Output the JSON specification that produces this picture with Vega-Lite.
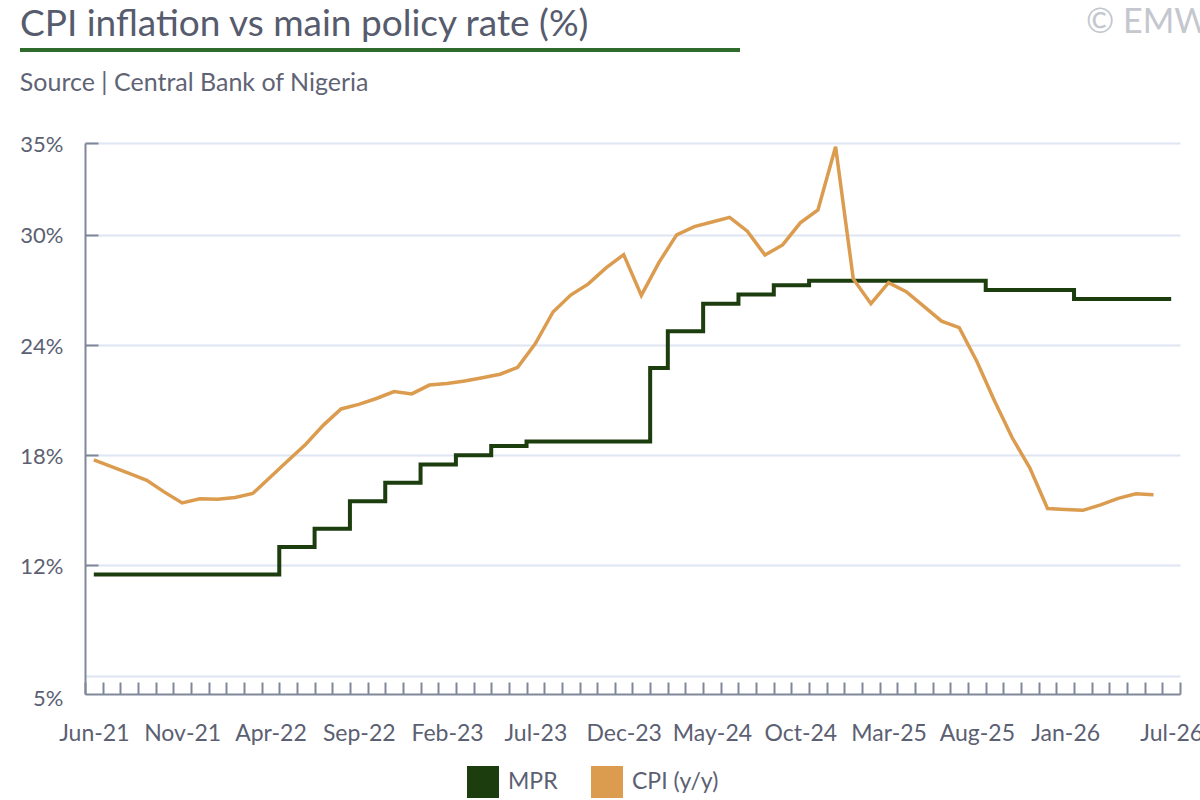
{
  "$schema": "https://vega.github.io/schema/vega-lite/v6.json",
  "background": "white",
  "padding": {"left": 17, "top": 0, "right": 0, "bottom": 0},
  "spacing": 19,
  "config": {
    "view": {"stroke": null},
    "font": "Lato",
    "text": {"font": "Lato"}
  },
  "vconcat": [
    {
      "width": 1095,
      "height": 52,
      "data": {"values": [{"label": "CPI inflation vs main policy rate (%)", "note": "© EMW"}]},
      "layer": [
        {
          "mark": {"type": "text", "align": "left", "baseline": "alphabetic", "font": "Lato", "fontSize": 37, "color": "#565b6d"},
          "encoding": {
            "x": {"datum": -0.0594, "type": "quantitative", "scale": {"domain": [0, 1]}, "axis": null},
            "y": {"datum": 0.69, "type": "quantitative", "scale": {"domain": [0, 1], "reverse": true}, "axis": null},
            "text": {"field": "label"}
          }
        },
        {
          "mark": {"type": "text", "align": "left", "baseline": "alphabetic", "font": "Lato", "fontSize": 34, "color": "#c4c7ce"},
          "encoding": {
            "x": {"datum": 0.9142, "type": "quantitative"},
            "y": {"datum": 0.63, "type": "quantitative"},
            "text": {"field": "note"}
          }
        },
        {
          "mark": {"type": "rule", "color": "#2f6b2d", "strokeWidth": 4},
          "encoding": {
            "x": {"datum": -0.0594, "type": "quantitative"},
            "x2": {"datum": 0.5982},
            "y": {"datum": 0.96, "type": "quantitative"}
          }
        }
      ]
    },
    {
      "width": 1095,
      "height": 551,
      "title": {
        "text": "Source | Central Bank of Nigeria",
        "anchor": "start",
        "frame": "bounds",
        "font": "Lato",
        "fontSize": 25,
        "fontWeight": "normal",
        "color": "#5f6475",
        "offset": 37
      },
      "data": {
        "values": [
          {"month": "Jun-21", "MPR": 11.5, "CPI": 17.75},
          {"month": "Jul-21", "MPR": 11.5, "CPI": 17.38},
          {"month": "Aug-21", "MPR": 11.5, "CPI": 17.01},
          {"month": "Sep-21", "MPR": 11.5, "CPI": 16.63},
          {"month": "Oct-21", "MPR": 11.5, "CPI": 15.99},
          {"month": "Nov-21", "MPR": 11.5, "CPI": 15.4},
          {"month": "Dec-21", "MPR": 11.5, "CPI": 15.63},
          {"month": "Jan-22", "MPR": 11.5, "CPI": 15.6},
          {"month": "Feb-22", "MPR": 11.5, "CPI": 15.7},
          {"month": "Mar-22", "MPR": 11.5, "CPI": 15.92},
          {"month": "Apr-22", "MPR": 11.5, "CPI": 16.82},
          {"month": "May-22", "MPR": 13, "CPI": 17.71},
          {"month": "Jun-22", "MPR": 13, "CPI": 18.6},
          {"month": "Jul-22", "MPR": 14, "CPI": 19.64},
          {"month": "Aug-22", "MPR": 14, "CPI": 20.52},
          {"month": "Sep-22", "MPR": 15.5, "CPI": 20.77},
          {"month": "Oct-22", "MPR": 15.5, "CPI": 21.09},
          {"month": "Nov-22", "MPR": 16.5, "CPI": 21.47},
          {"month": "Dec-22", "MPR": 16.5, "CPI": 21.34},
          {"month": "Jan-23", "MPR": 17.5, "CPI": 21.82},
          {"month": "Feb-23", "MPR": 17.5, "CPI": 21.91},
          {"month": "Mar-23", "MPR": 18, "CPI": 22.04},
          {"month": "Apr-23", "MPR": 18, "CPI": 22.22},
          {"month": "May-23", "MPR": 18.5, "CPI": 22.41},
          {"month": "Jun-23", "MPR": 18.5, "CPI": 22.79},
          {"month": "Jul-23", "MPR": 18.75, "CPI": 24.08},
          {"month": "Aug-23", "MPR": 18.75, "CPI": 25.8},
          {"month": "Sep-23", "MPR": 18.75, "CPI": 26.72},
          {"month": "Oct-23", "MPR": 18.75, "CPI": 27.33},
          {"month": "Nov-23", "MPR": 18.75, "CPI": 28.2},
          {"month": "Dec-23", "MPR": 18.75, "CPI": 28.92},
          {"month": "Jan-24", "MPR": 18.75, "CPI": 26.7},
          {"month": "Feb-24", "MPR": 22.75, "CPI": 28.5},
          {"month": "Mar-24", "MPR": 24.75, "CPI": 30.0},
          {"month": "Apr-24", "MPR": 24.75, "CPI": 30.45},
          {"month": "May-24", "MPR": 26.25, "CPI": 30.7},
          {"month": "Jun-24", "MPR": 26.25, "CPI": 30.95},
          {"month": "Jul-24", "MPR": 26.75, "CPI": 30.2},
          {"month": "Aug-24", "MPR": 26.75, "CPI": 28.9},
          {"month": "Sep-24", "MPR": 27.25, "CPI": 29.45},
          {"month": "Oct-24", "MPR": 27.25, "CPI": 30.65},
          {"month": "Nov-24", "MPR": 27.5, "CPI": 31.35},
          {"month": "Dec-24", "MPR": 27.5, "CPI": 34.8},
          {"month": "Jan-25", "MPR": 27.5, "CPI": 27.6},
          {"month": "Feb-25", "MPR": 27.5, "CPI": 26.25},
          {"month": "Mar-25", "MPR": 27.5, "CPI": 27.4},
          {"month": "Apr-25", "MPR": 27.5, "CPI": 26.9},
          {"month": "May-25", "MPR": 27.5, "CPI": 26.1},
          {"month": "Jun-25", "MPR": 27.5, "CPI": 25.3},
          {"month": "Jul-25", "MPR": 27.5, "CPI": 24.95},
          {"month": "Aug-25", "MPR": 27.5, "CPI": 23.1},
          {"month": "Sep-25", "MPR": 27, "CPI": 20.95},
          {"month": "Oct-25", "MPR": 27, "CPI": 18.95},
          {"month": "Nov-25", "MPR": 27, "CPI": 17.3},
          {"month": "Dec-25", "MPR": 27, "CPI": 15.1},
          {"month": "Jan-26", "MPR": 27, "CPI": 15.05},
          {"month": "Feb-26", "MPR": 26.5, "CPI": 15.0},
          {"month": "Mar-26", "MPR": 26.5, "CPI": 15.3},
          {"month": "Apr-26", "MPR": 26.5, "CPI": 15.65},
          {"month": "May-26", "MPR": 26.5, "CPI": 15.9},
          {"month": "Jun-26", "MPR": 26.5, "CPI": 15.85},
          {"month": "Jul-26", "MPR": 26.5, "CPI": null}
        ]
      },
      "encoding": {
        "x": {
          "field": "month",
          "type": "ordinal",
          "sort": null,
          "bandPosition": 0.5,
          "scale": {"type": "band", "paddingInner": 0, "paddingOuter": 0},
          "axis": {
            "title": null,
            "tickBand": "extent",
            "tickSize": -12,
            "tickWidth": 2,
            "tickColor": "#7f8799",
            "domainColor": "#7f8799",
            "domainWidth": 2,
            "labelAngle": 0,
            "labelFont": "Lato",
            "labelFontSize": 23,
            "labelColor": "#5b6072",
            "labelPadding": 40,
            "labelOverlap": false,
            "labelBound": false,
            "labelFlush": false,
            "labelExpr": "indexof(['Jun-21','Nov-21','Apr-22','Sep-22','Feb-23','Jul-23','Dec-23','May-24','Oct-24','Mar-25','Aug-25','Jan-26','Jul-26'], datum.value) >= 0 ? datum.value : ''",
            "grid": false
          }
        }
      },
      "layer": [
        {
          "mark": {"type": "line", "interpolate": "step", "strokeWidth": 4},
          "encoding": {
            "y": {
              "field": "MPR",
              "type": "quantitative",
              "scale": {"domain": [5, 35], "nice": false, "zero": false},
              "axis": {
                "title": null,
                "values": [5, 6, 12, 18, 24, 30, 35],
                "labelExpr": "datum.value == 6 ? '' : datum.value + '%'",
                "grid": true,
                "gridColor": "#dde6f2",
                "gridWidth": 2,
                "gridOpacity": {"condition": {"test": "datum.value == 5", "value": 0}, "value": 1},
                "tickOpacity": {"condition": {"test": "datum.value <= 6", "value": 0}, "value": 1},
                "tickSize": -13,
                "tickWidth": 2,
                "tickColor": "#7f8799",
                "domainColor": "#7f8799",
                "domainWidth": 2,
                "labelFont": "Lato",
                "labelFontSize": 22,
                "labelColor": "#5b6072",
                "labelPadding": 35,
                "labelOffset": {"condition": {"test": "datum.value == 5", "value": 4}, "value": 1},
                "minExtent": 61,
                "maxExtent": 61
              }
            },
            "color": {
              "datum": "MPR",
              "type": "nominal",
              "scale": {"domain": ["MPR", "CPI (y/y)"], "range": ["#1c3d0e", "#db9c50"]},
              "legend": {
                "orient": "none",
                "legendX": 382,
                "legendY": 766,
                "direction": "horizontal",
                "title": null,
                "symbolType": "square",
                "symbolSize": 1024,
                "symbolStrokeWidth": 0,
                "labelFont": "Lato",
                "labelFontSize": 23,
                "labelColor": "#5b6072",
                "labelOffset": 9,
                "columnPadding": 33,
                "encode": {"symbols": {"update": {"fill": {"scale": "color", "field": "value"}, "opacity": {"value": 1}}}}
              }
            }
          }
        },
        {
          "mark": {"type": "line", "strokeWidth": 3.5},
          "encoding": {
            "y": {"field": "CPI", "type": "quantitative"},
            "color": {"datum": "CPI (y/y)", "type": "nominal"}
          }
        }
      ]
    }
  ]
}
